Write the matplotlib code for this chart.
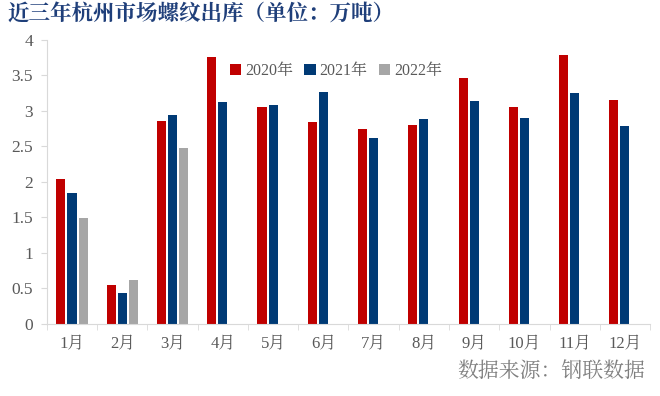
import numpy as np
import matplotlib
matplotlib.use("Agg")
import matplotlib.pyplot as plt
from matplotlib.ticker import FixedLocator, NullFormatter

months = ["1月", "2月", "3月", "4月", "5月", "6月", "7月", "8月", "9月", "10月", "11月", "12月"]
y2020 = [2.04, 0.55, 2.86, 3.76, 3.06, 2.85, 2.75, 2.80, 3.47, 3.05, 3.79, 3.16]
y2021 = [1.85, 0.44, 2.94, 3.13, 3.08, 3.27, 2.62, 2.89, 3.14, 2.90, 3.25, 2.79]
y2022 = [1.49, 0.62, 2.48]
series = ["2020年", "2021年", "2022年"]
colors = ["#C00000", "#003A75", "#A6A6A6"]

fonts = ["Liberation Serif", "Noto Serif CJK SC"]
plt.rcParams["font.family"] = fonts
gray = "#595959"

fig = plt.figure(figsize=(6.6, 3.96), dpi=100)
ax = fig.add_axes([0.071, 0.182, 0.914, 0.717])

x = np.arange(len(months))
w = 0.18
step = 0.22
ax.bar(x - step, y2020, w, color=colors[0], label=series[0])
ax.bar(x, y2021, w, color=colors[1], label=series[1])
ax.bar(x[:len(y2022)] + step, y2022, w, color=colors[2], label=series[2])

ax.set_xlim(-0.5, len(months) - 0.5)
ax.set_ylim(0, 4)
ax.xaxis.set_minor_locator(FixedLocator(np.arange(-0.5, len(months), 1)))
ax.xaxis.set_minor_formatter(NullFormatter())
ax.tick_params(axis="x", which="major", length=0, pad=9, labelsize=12, labelcolor=gray)
ax.tick_params(axis="x", which="minor", length=4, color="#D9D9D9")
ax.tick_params(axis="y", length=4, color="#D9D9D9", pad=6, labelsize=12.5, labelcolor=gray)
ax.set_yticks(np.arange(0, 4.01, 0.5))
ax.set_yticklabels(["0", "0.5", "1", "1.5", "2", "2.5", "3", "3.5", "4"])
ax.set_xticks(x)
ax.set_xticklabels(months)

for s in ["top", "right"]:
    ax.spines[s].set_visible(False)
for s in ["left", "bottom"]:
    ax.spines[s].set_color("#D9D9D9")

leg = ax.legend(loc="upper left", bbox_to_anchor=(0.28, 0.97), ncol=3, frameon=False,
                fontsize=11.5, handlelength=0.7, handleheight=0.7,
                handletextpad=0.25, columnspacing=0.7)
for t in leg.get_texts():
    t.set_color(gray)

fig.text(0.012, 0.962, "近三年杭州市场螺纹出库（单位：万吨）", family=["Noto Serif CJK SC"],
         fontsize=15.5, fontweight="bold", color="#1F3F7A", va="center")
fig.text(0.978, 0.063, "数据来源：钢联数据", family=["Noto Serif CJK SC"],
         fontsize=15, color="#7F7F7F", ha="right", va="center")

fig.savefig("out.png", dpi=100)
